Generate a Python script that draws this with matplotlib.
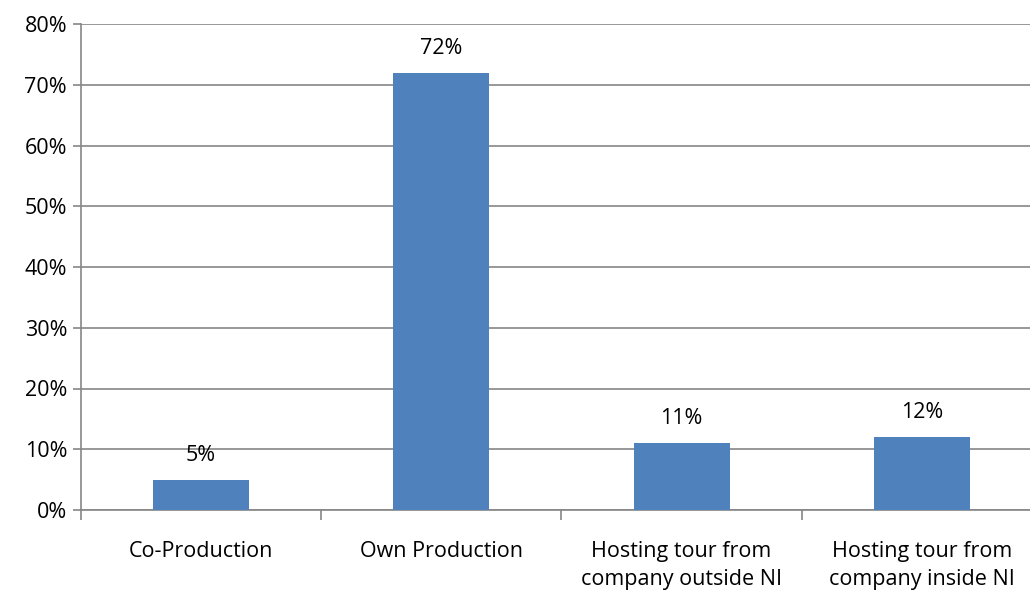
import numpy as np
import matplotlib.pyplot as plt

categories = ["Co-Production", "Own Production",
              "Hosting tour from\ncompany outside NI",
              "Hosting tour from\ncompany inside NI"]
shares = [5, 72, 11, 12]
yticks = [0, 10, 20, 30, 40, 50, 60, 70, 80]

plt.rcParams['font.family'] = ['Open Sans', 'DejaVu Sans']
grid_col = "#868686"
fs = 15.5

fig = plt.figure(figsize=(10.3, 5.9), dpi=100)
# plot area runs a little past the right edge of the canvas
ax = fig.add_axes([81/1030, 1 - 510/590, 961/1030, 486/590])

x = np.arange(len(categories))
ax.bar(x, shares, width=0.4, color="#4F81BD", zorder=3)
for xi, v in zip(x, shares):
    ax.annotate(f"{v}%", (xi, v), xytext=(0, 10), textcoords="offset points",
                ha="center", va="bottom", fontsize=fs, color="#000000")

ax.set_xlim(-0.5, len(categories) - 0.5)
ax.set_ylim(0, 80)
ax.set_yticks(yticks)
ax.set_yticklabels([f"{t}%" for t in yticks], fontsize=fs)
ax.yaxis.grid(True, color=grid_col, linewidth=1.2, zorder=0)

ax.set_xticks(x)
ax.set_xticklabels(categories, fontsize=fs, linespacing=1.45)
ax.tick_params(axis="x", length=0, pad=22)
ax.set_xticks(np.arange(len(categories) + 1) - 0.5, minor=True)
ax.tick_params(axis="x", which="minor", length=7, color=grid_col, width=1.2)
ax.tick_params(axis="y", length=6, color=grid_col, width=1.2, pad=4)

for side in ["top", "right"]:
    ax.spines[side].set_visible(False)
for side in ["left", "bottom"]:
    ax.spines[side].set_color(grid_col)
    ax.spines[side].set_linewidth(1.2)

fig.savefig("out.png", dpi=100)
